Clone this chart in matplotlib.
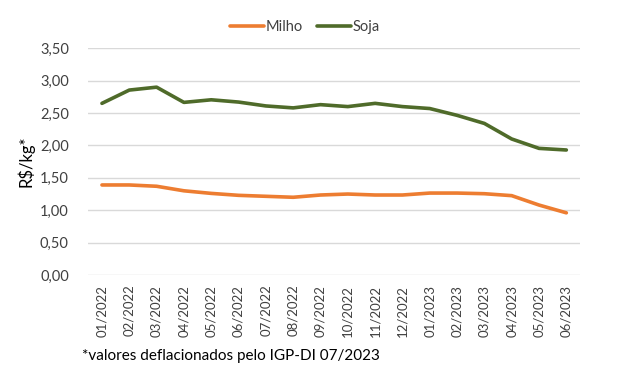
import matplotlib
matplotlib.use("Agg")
import matplotlib.pyplot as plt

plt.rcParams['font.family'] = ['Lato', 'DejaVu Sans']

meses = ["01/2022", "02/2022", "03/2022", "04/2022", "05/2022", "06/2022",
         "07/2022", "08/2022", "09/2022", "10/2022", "11/2022", "12/2022",
         "01/2023", "02/2023", "03/2023", "04/2023", "05/2023", "06/2023"]
milho = [1.39, 1.39, 1.37, 1.30, 1.26, 1.23, 1.215, 1.20, 1.235, 1.25, 1.235, 1.235,
         1.265, 1.265, 1.255, 1.225, 1.08, 0.96]
soja = [2.65, 2.855, 2.90, 2.665, 2.705, 2.67, 2.61, 2.58, 2.63, 2.60, 2.65, 2.60,
        2.57, 2.465, 2.34, 2.10, 1.955, 1.93]
yticks = [0.0, 0.5, 1.0, 1.5, 2.0, 2.5, 3.0, 3.5]
ytick_labels = ["0,00", "0,50", "1,00", "1,50", "2,00", "2,50", "3,00", "3,50"]

fig = plt.figure(figsize=(6.25, 3.79), dpi=100)
ax = fig.add_axes([88.3/625, 1-275/379, (580-88.3)/625, (275-48.3)/379])

x = list(range(len(meses)))
ax.plot(x, milho, color="#ED7D31", lw=2.6, label="Milho", solid_capstyle="round")
ax.plot(x, soja, color="#4F6B2A", lw=2.6, label="Soja", solid_capstyle="round")

ax.set_xlim(-0.5, len(meses) - 0.5)
ax.set_ylim(0, 3.5)
ax.set_yticks(yticks)
ax.set_yticklabels(ytick_labels, fontsize=10.5, color="#404040")
ax.set_xticks(x)
ax.set_xticklabels(meses, rotation=90, fontsize=9.5, color="#404040")
ax.tick_params(axis='both', length=0)
ax.tick_params(axis='y', pad=14)
ax.tick_params(axis='x', pad=7)
ax.grid(axis='y', color="#D9D9D9", lw=1)
ax.set_axisbelow(True)
for s in ax.spines.values():
    s.set_visible(False)

ax.set_ylabel("R$/kg*", fontsize=12, color="#000000", labelpad=4)

leg = fig.legend(loc="center", bbox_to_anchor=(305/625, 1-27/379), ncol=2, frameon=False,
                 fontsize=10.5, handlelength=2.3, handletextpad=0.1, columnspacing=1.0)
for t in leg.get_texts():
    t.set_color("#404040")

fig.text(82/625, 1-356/379, "*valores deflacionados pelo IGP-DI 07/2023", fontsize=11,
         va="center", ha="left", color="#000000")

fig.savefig("out.png", dpi=100)
